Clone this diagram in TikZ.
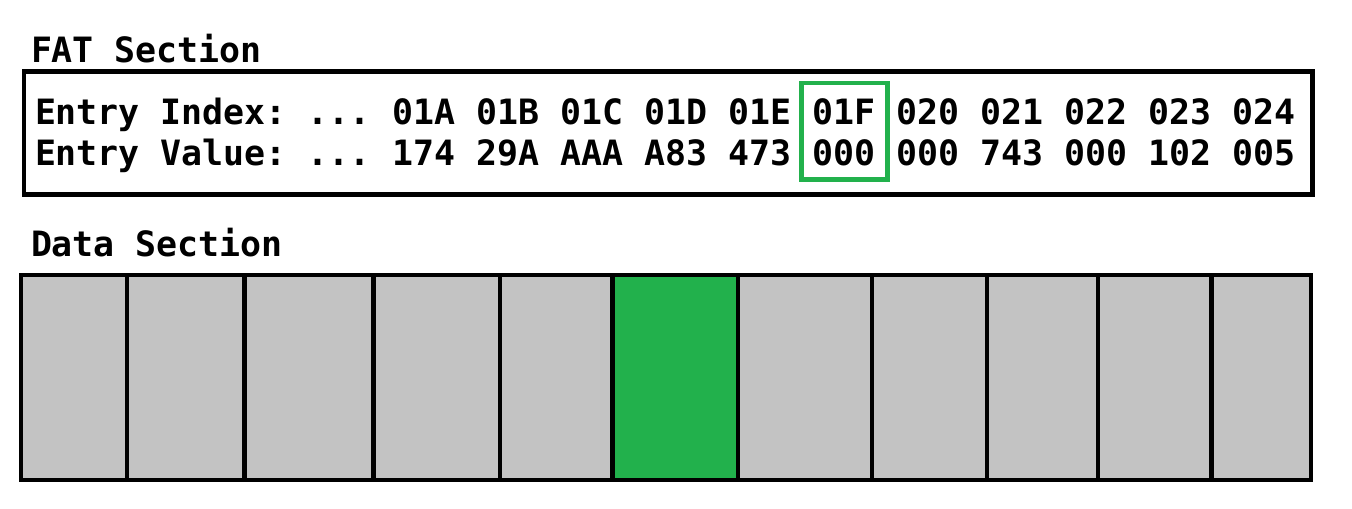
\documentclass[tikz,border=0pt]{standalone}
\usepackage{fontspec}
\newfontfamily\hexfont{DejaVu Sans Mono}
\definecolor{cellgray}{HTML}{C3C3C3}
\definecolor{selgreen}{HTML}{22B14C}
\frenchspacing

\begin{document}
\begin{tikzpicture}[x=0.5pt, y=-0.5pt,
    every node/.style={inner sep=0pt, outer sep=0pt},
    hextext/.style={anchor=base west, font=\hexfont\bfseries\fontsize{17.44}{20}\selectfont},
    frame/.style={draw, rectangle, line width=2.25pt},
    cell/.style={draw, rectangle, line width=2.25pt, minimum height=102.5pt},
    selbox/.style={draw=selgreen, rectangle, line width=2.2pt}]
  \useasboundingbox (0,0) rectangle (1352,508);

  % FAT section
  \node[hextext] (fattitle) at (31,62) {FAT Section};
  \node[frame, minimum width=644.25pt, minimum height=61.5pt] (fat) at (668.25,133) {};
  \node[hextext] (idxlabel) at (35,124) {Entry Index: ...};
  \node[hextext] (vallabel) at (35,165) {Entry Value: ...};
  \foreach \ix/\vl [count=\i from 0] in {01A/174, 01B/29A, 01C/AAA, 01D/A83, 01E/473,
      01F/000, 020/000, 021/743, 022/000, 023/102, 024/005} {
    \node[hextext] (ix\i) at ({35+(17+4*\i)*21},124) {\ix};
    \node[hextext] (vl\i) at ({35+(17+4*\i)*21},165) {\vl};
  }
  \node[selbox, minimum width=43pt, minimum height=48.25pt] (sel) at (844.5,131.25) {};

  % Data section
  \node[hextext] (datatitle) at (31,256) {Data Section};
  \foreach \l/\r/\c [count=\k] in {21/127/cellgray, 127/244.5/cellgray, 244.5/373.5/cellgray,
      373.5/500/cellgray, 500/612.5/cellgray, 612.5/738/selgreen, 738/872/cellgray,
      872/987/cellgray, 987/1098/cellgray, 1098/1211.5/cellgray, 1211.5/1311/cellgray} {
    \node[cell, fill=\c, minimum width={(\r-\l)*0.5pt}] (d\k) at ({(\l+\r)/2},377.5) {};
  }
\end{tikzpicture}
\end{document}
